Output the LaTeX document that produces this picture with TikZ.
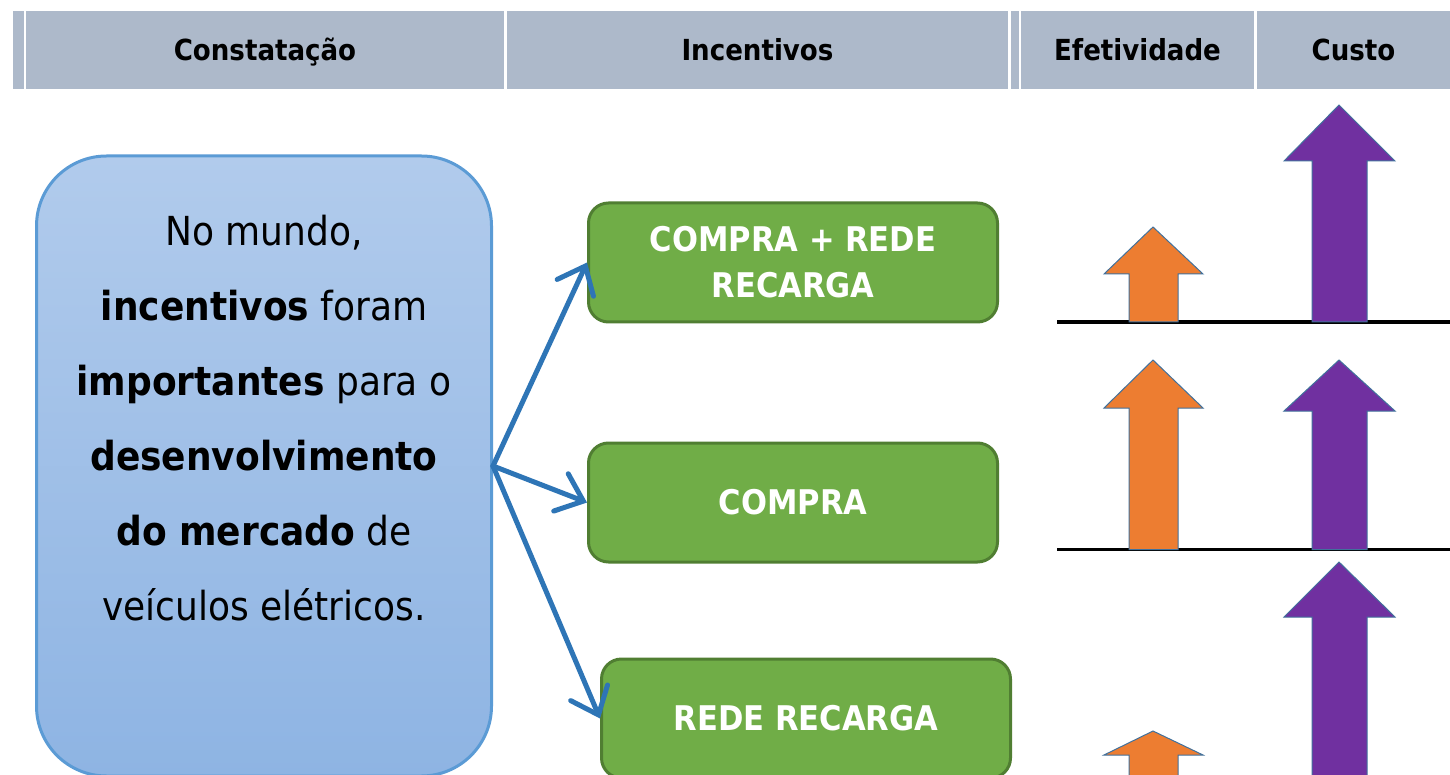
\documentclass[tikz,border=0pt]{standalone}
\usepackage{fontspec}
\setmainfont{DejaVu Sans Condensed}
\usetikzlibrary{arrows.meta}
\definecolor{hdr}{HTML}{ADB9CA}
\definecolor{bluetop}{HTML}{B1CBEC}
\definecolor{bluebot}{HTML}{8EB4E3}
\definecolor{blueedge}{HTML}{5B9BD5}
\definecolor{grfill}{HTML}{70AD47}
\definecolor{gredge}{HTML}{507E32}
\definecolor{arrblue}{HTML}{2E75B6}
\definecolor{orng}{HTML}{ED7D31}
\definecolor{purp}{HTML}{7030A0}
\definecolor{shapeedge}{HTML}{41719C}
\tikzset{
  hcell/.style={fill=hdr, inner sep=0pt, minimum height=78pt, text height=26pt, text depth=4pt, font=\bfseries\fontsize{29}{32}\selectfont, text=black},
  gbox/.style={draw=gredge, line width=3pt, fill=grfill, rounded corners=20pt, minimum width=409pt, minimum height=119pt, inner sep=0pt, text=white, align=center, font=\bfseries\fontsize{34}{46}\selectfont},
  bbox/.style={draw=blueedge, line width=3pt, top color=bluetop, bottom color=bluebot, rounded corners=70pt, minimum width=455pt, minimum height=620pt, inner sep=0pt},
  btext/.style={align=center, inner sep=0pt, font=\fontsize{40}{75}\selectfont, text=black},
  link/.style={draw=arrblue, line width=5pt, line cap=round, -{Straight Barb[length=24pt,width=40pt,line cap=round]}},
  effarrow/.style={fill=orng, draw=shapeedge, line width=1pt},
  costarrow/.style={fill=purp, draw=shapeedge, line width=1pt},
  baseline/.style={draw=black, line width=3.5pt}
}
\begin{document}
\begin{tikzpicture}[x=1pt,y=-1pt]
\useasboundingbox (0,0) rectangle (1450,775);
\clip (0,0) rectangle (1450,775);
\fill[white] (0,0) rectangle (1450,775);
% header
\node[hcell, minimum width=11pt] (s1) at (18.5,50) {};
\node[hcell, minimum width=478pt] (h1) at (265,50) {Constatação};
\node[hcell, minimum width=501pt] (h2) at (757.5,50) {Incentivos};
\node[hcell, minimum width=8pt] (s2) at (1015,50) {};
\node[hcell, minimum width=233pt] (h3) at (1137.5,50) {Efetividade};
\node[hcell, minimum width=193pt] (h4) at (1353.5,50) {Custo};
% blue box
\node[bbox] (blue) at (264,466) {};
\node[btext] (btxt) at (264,418) {No mundo,\\ \textbf{incentivos} foram\\ \textbf{importantes} para o\\ \textbf{desenvolvimento}\\ \textbf{do mercado} de\\ veículos elétricos.};
% green boxes
\node[gbox] (g1) at (793,262.5) {COMPRA + REDE\\RECARGA};
\node[gbox] (g2) at (793,502.5) {COMPRA};
\node[gbox] (g3) at (806,718.5) {REDE RECARGA};
% connectors
\draw[link] (blue.east) -- (g1.west);
\draw[link] (blue.east) -- (g2.west);
\draw[link] (blue.east) -- (g3.west);
% base lines
\draw[baseline] (1057,322) -- (1450,322);
\draw[baseline] (1057,549.5) -- (1450,549.5);
% effectiveness arrows
\draw[effarrow] (1129,322) -- (1129,274) -- (1104,274) -- (1153,227) -- (1203,274) -- (1178,274) -- (1178,322) -- cycle;
\draw[effarrow] (1129,549.5) -- (1129,408) -- (1104,408) -- (1153,360) -- (1203,408) -- (1178,408) -- (1178,549.5) -- cycle;
\draw[effarrow] (1129,800) -- (1129,755) -- (1104,755) -- (1153,731) -- (1203,755) -- (1178,755) -- (1178,800) -- cycle;
% cost arrows
\draw[costarrow] (1312,322) -- (1312,161) -- (1284,161) -- (1339,105) -- (1395,161) -- (1367,161) -- (1367,322) -- cycle;
\draw[costarrow] (1312,549.5) -- (1312,411) -- (1284,411) -- (1339,360) -- (1395,411) -- (1367,411) -- (1367,549.5) -- cycle;
\draw[costarrow] (1312,800) -- (1312,617) -- (1284,617) -- (1339,562) -- (1395,617) -- (1367,617) -- (1367,800) -- cycle;
\end{tikzpicture}
\end{document}
